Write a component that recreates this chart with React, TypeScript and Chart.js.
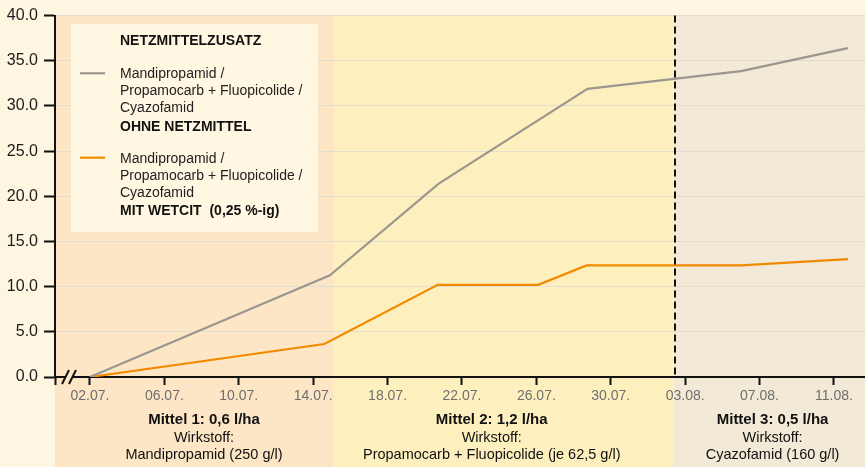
import React, { useEffect, useRef } from 'react';
import { Chart, registerables } from 'chart.js';

Chart.register(...registerables);

// ---- data ----
const tickDays = [0, 4, 8, 12, 16, 20, 24, 28, 32, 36, 40];
const tickLabels = ['02.07.', '06.07.', '10.07.', '14.07.', '18.07.', '22.07.', '26.07.', '30.07.', '03.08.', '07.08.', '11.08.'];
const xMin = -1.88;
const xMax = 41.67;

const grayDays = [0, 12.9, 18.75, 26.75, 35.0, 40.75];
const grayValues = [0, 11.25, 21.4, 31.9, 33.85, 36.4];
const orangeDays = [0, 12.6, 18.7, 24.1, 26.7, 35.0, 40.75];
const orangeValues = [0, 3.65, 10.2, 10.2, 12.35, 12.35, 13.05];

const yTicksStep = 5;
const yMin = 0;
const yMax = 40;

const bandStarts = [xMin, 13.1, 31.4];
const bandEnds = [13.1, 31.4, xMax];
const bandColors = ['#fde6c6', '#fef0be', '#f2ead6'];
const bandLabelCenters = [6.13, 21.6, 36.7];
const bandTitles = ['Mittel 1: 0,6 l/ha', 'Mittel 2: 1,2 l/ha', 'Mittel 3: 0,5 l/ha'];
const bandSubtitles = ['Wirkstoff:', 'Wirkstoff:', 'Wirkstoff:'];
const bandIngredients = ['Mandipropamid (250 g/l)', 'Propamocarb + Fluopicolide (je 62,5 g/l)', 'Cyazofamid (160 g/l)'];
const markerDay = 31.45;

const legendTitle = 'NETZMITTELZUSATZ';
const seriesNames = ['Mandipropamid / Propamocarb + Fluopicolide / Cyazofamid ohne Netzmittel', 'Mandipropamid / Propamocarb + Fluopicolide / Cyazofamid mit Wetcit'];
const seriesLabelLines = [
  ['Mandipropamid /', 'Propamocarb + Fluopicolide /', 'Cyazofamid'],
  ['Mandipropamid /', 'Propamocarb + Fluopicolide /', 'Cyazofamid'],
];
const seriesTags = ['OHNE NETZMITTEL', 'MIT WETCIT  (0,25 %-ig)'];
const seriesColors = ['#9c978e', '#f28a00'];

const FONT = '"Liberation Sans", Arial, Helvetica, sans-serif';
const PAGE_BG = '#fef6e1';

export default function App() {
  const ref = useRef<HTMLCanvasElement | null>(null);

  useEffect(() => {
    const canvas = ref.current;
    if (!canvas) return;

    const decoPlugin = {
      id: 'deco',
      beforeDraw(chart: any) {
        const { ctx, chartArea, scales, height } = chart;
        const xs = scales.x;
        ctx.save();
        for (let i = 0; i < bandStarts.length; i++) {
          const x0 = xs.getPixelForValue(bandStarts[i]);
          const x1 = xs.getPixelForValue(bandEnds[i]);
          ctx.fillStyle = bandColors[i];
          ctx.fillRect(x0, chartArea.top, x1 - x0, height - chartArea.top);
        }
        ctx.restore();
      },
      afterDatasetsDraw(chart: any) {
        const { ctx, chartArea, scales } = chart;
        const x = Math.round(scales.x.getPixelForValue(markerDay));
        ctx.save();
        ctx.strokeStyle = '#111';
        ctx.lineWidth = 2;
        ctx.setLineDash([7, 4]);
        ctx.beginPath();
        ctx.moveTo(x, chartArea.top);
        ctx.lineTo(x, chartArea.bottom);
        ctx.stroke();
        ctx.restore();
      },
      afterDraw(chart: any) {
        const { ctx, chartArea, scales } = chart;
        const xs = scales.x;
        ctx.save();
        // band labels
        ctx.textAlign = 'center';
        ctx.textBaseline = 'middle';
        ctx.fillStyle = '#111';
        for (let i = 0; i < bandTitles.length; i++) {
          const cx = xs.getPixelForValue(bandLabelCenters[i]);
          ctx.font = `bold 15px ${FONT}`;
          ctx.fillText(bandTitles[i], cx, 420);
          ctx.font = `14.5px ${FONT}`;
          ctx.fillText(bandSubtitles[i], cx, 438);
          ctx.fillText(bandIngredients[i], cx, 455);
        }
        // axis break
        const by = chartArea.bottom;
        ctx.fillStyle = bandColors[0];
        ctx.fillRect(66, by - 2, 6, 4);
        ctx.strokeStyle = '#111';
        ctx.lineWidth = 2;
        ctx.beginPath();
        ctx.moveTo(62, by + 7);
        ctx.lineTo(69, by - 7);
        ctx.moveTo(69, by + 7);
        ctx.lineTo(76, by - 7);
        ctx.stroke();

        // legend
        ctx.fillStyle = '#fff7e2';
        ctx.fillRect(71, 24, 247, 208);
        ctx.textAlign = 'left';
        ctx.fillStyle = '#111';
        ctx.font = `bold 14px ${FONT}`;
        ctx.fillText(legendTitle, 120, 41);
        for (let s = 0; s < seriesTags.length; s++) {
          const y0 = 74.3 + s * 84.4;
          ctx.strokeStyle = seriesColors[s];
          ctx.lineWidth = 2.2;
          ctx.beginPath();
          ctx.moveTo(80, y0 - 1);
          ctx.lineTo(105, y0 - 1);
          ctx.stroke();
          ctx.fillStyle = '#222';
          ctx.font = `14px ${FONT}`;
          seriesLabelLines[s].forEach((t, k) => ctx.fillText(t, 120, y0 + k * 17));
          ctx.fillStyle = '#111';
          ctx.font = `bold 14px ${FONT}`;
          ctx.fillText(seriesTags[s], 120, y0 + 52.4);
        }
        ctx.restore();
      },
    };

    const chart = new Chart(canvas, {
      type: 'line',
      data: {
        datasets: [
          {
            label: seriesNames[0],
            data: grayDays.map((d, i) => ({ x: d, y: grayValues[i] })),
            borderColor: seriesColors[0],
            borderWidth: 2.2,
            pointRadius: 0,
            tension: 0,
            fill: false,
          },
          {
            label: seriesNames[1],
            data: orangeDays.map((d, i) => ({ x: d, y: orangeValues[i] })),
            borderColor: seriesColors[1],
            borderWidth: 2.2,
            pointRadius: 0,
            tension: 0,
            fill: false,
          },
        ],
      },
      options: {
        animation: false,
        responsive: false,
        maintainAspectRatio: false,
        layout: { padding: { top: 13, left: 0, right: 0, bottom: 0 } },
        plugins: { legend: { display: false }, tooltip: { enabled: false } },
        scales: {
          x: {
            type: 'linear',
            min: xMin,
            max: xMax,
            afterBuildTicks: (s: any) => {
              s.ticks = [{ value: xMin }, ...tickDays.map((v) => ({ value: v }))];
            },
            afterFit: (s: any) => {
              s.height = 90;
            },
            ticks: {
              autoSkip: false,
              maxRotation: 0,
              color: '#6e6e6e',
              font: { family: FONT, size: 14 },
              padding: 3,
              callback: (v: any) => {
                const i = tickDays.indexOf(Number(v));
                return i >= 0 ? tickLabels[i] : '';
              },
            },
            grid: {
              drawOnChartArea: false,
              drawTicks: true,
              tickLength: 8,
              tickColor: '#111',
              tickWidth: 2,
            },
            border: { color: '#111', width: 2 },
          },
          y: {
            min: yMin,
            max: yMax,
            afterFit: (s: any) => {
              s.width = 55;
            },
            ticks: {
              stepSize: yTicksStep,
              color: '#1c1c1c',
              font: { family: FONT, size: 16 },
              padding: 6,
              callback: (v: any) => Number(v).toFixed(1),
            },
            grid: {
              color: '#e2ddd0',
              lineWidth: 1,
              tickColor: '#111',
              tickWidth: 2,
              tickLength: 11,
            },
            border: { color: '#111', width: 2 },
          },
        },
      } as any,
      plugins: [decoPlugin],
    });

    return () => chart.destroy();
  }, []);

  return (
    <div style={{ position: 'absolute', left: 0, top: 0, width: 865, height: 467, background: PAGE_BG }}>
      <canvas ref={ref} width={865} height={467} style={{ width: 865, height: 467, display: 'block' }} />
    </div>
  );
}
